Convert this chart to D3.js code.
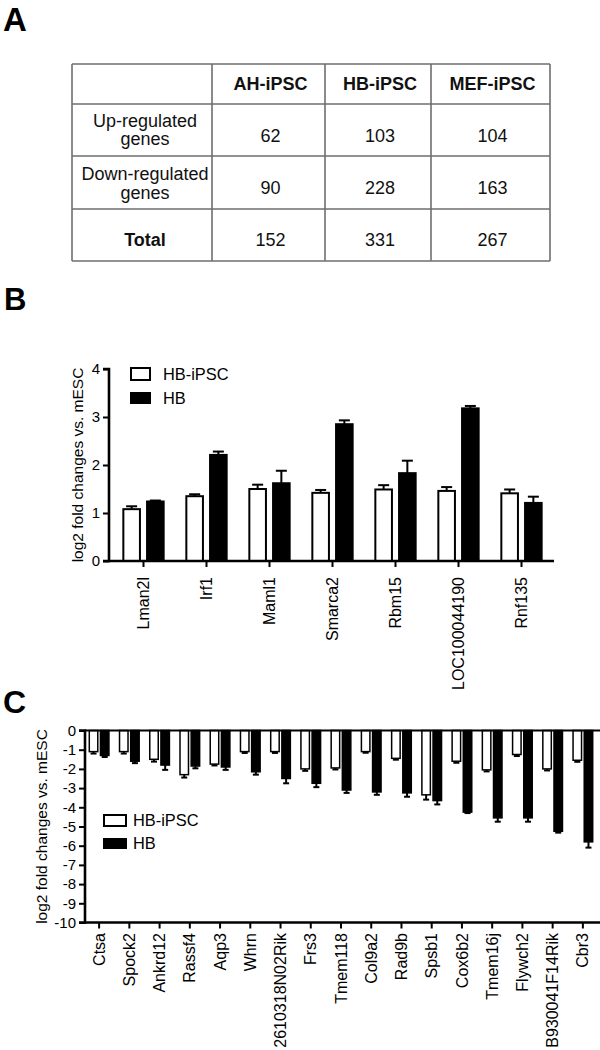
<!DOCTYPE html>
<html><head><meta charset="utf-8">
<script src="https://cdn.jsdelivr.net/npm/d3@7"></script>
<style>
html,body{margin:0;padding:0;background:#fff;}
svg{display:block;font-family:"Liberation Sans",Arial,sans-serif;}
</style></head>
<body>
<svg id="fig" width="600" height="1050"></svg>
<script>
// ---------- Panel A data ----------
const tableCols = ["AH-iPSC", "HB-iPSC", "MEF-iPSC"];
const rowLabels = [["Up-regulated", "genes"], ["Down-regulated", "genes"], ["Total"]];
const upRegulated = [62, 103, 104];
const downRegulated = [90, 228, 163];
const totals = [152, 331, 267];

// ---------- Panel B data ----------
const seriesNames = ["HB-iPSC", "HB"];
const genesB = ["Lman2l", "Irf1", "Maml1", "Smarca2", "Rbm15", "LOC100044190", "Rnf135"];
const hbipscB = [1.08, 1.35, 1.50, 1.42, 1.49, 1.46, 1.41];
const hbipscBErr = [0.06, 0.04, 0.09, 0.06, 0.09, 0.08, 0.08];
const hbB = [1.24, 2.21, 1.62, 2.85, 1.83, 3.18, 1.21];
const hbBErr = [0.02, 0.07, 0.26, 0.08, 0.26, 0.05, 0.13];
const yTicksB = [0, 1, 2, 3, 4];

// ---------- Panel C data ----------
const genesC = ["Ctsa", "Spock2", "Ankrd12", "Rassf4", "Aqp3", "Whrn", "2610318N02Rik", "Frs3",
  "Tmem118", "Col9a2", "Rad9b", "Spsb1", "Cox6b2", "Tmem16j", "Flywch2", "B930041F14Rik", "Cbr3"];
const hbipscC = [-1.1, -1.1, -1.5, -2.3, -1.75, -1.1, -1.1, -2.0, -1.95, -1.1, -1.45, -3.35, -1.6, -2.05, -1.25, -2.0, -1.55];
const hbipscCErr = [0.1, 0.1, 0.12, 0.15, 0.07, 0.07, 0.07, 0.1, 0.08, 0.06, 0.07, 0.25, 0.08, 0.08, 0.08, 0.08, 0.08];
const hbC = [-1.3, -1.6, -1.8, -1.85, -1.9, -2.15, -2.5, -2.75, -3.1, -3.2, -3.25, -3.65, -4.25, -4.55, -4.55, -5.25, -5.8];
const hbCErr = [0.08, 0.1, 0.25, 0.12, 0.15, 0.15, 0.25, 0.2, 0.15, 0.15, 0.2, 0.2, 0.05, 0.2, 0.2, 0.07, 0.3];
const yTicksC = [0, -1, -2, -3, -4, -5, -6, -7, -8, -9, -10];

const svg = d3.select("#fig");
svg.append("rect").attr("width", 600).attr("height", 1050).attr("fill", "#fff");

// panel letters
const letters = [["A", 3, 30.5, 33], ["B", 4, 310, 31], ["C", 3, 713, 32]];
letters.forEach(([t, x, y, s]) => svg.append("text").attr("x", x).attr("y", y)
  .attr("font-size", s).attr("font-weight", "bold").attr("fill", "#000").text(t));

// ---------------- Panel A: table ----------------
(function () {
  const colX = d3.scaleOrdinal().domain(d3.range(5)).range([72, 212, 325, 431, 550]);
  const rowY = [64, 104, 156, 209, 261];
  const g = svg.append("g");
  const lineCol = "#6e6e6e";
  rowY.forEach(y => g.append("line").attr("x1", colX(0)).attr("x2", colX(4)).attr("y1", y).attr("y2", y)
    .attr("stroke", lineCol).attr("stroke-width", 1.6));
  d3.range(5).forEach(i => g.append("line").attr("x1", colX(i)).attr("x2", colX(i))
    .attr("y1", rowY[0]).attr("y2", rowY[4]).attr("stroke", lineCol).attr("stroke-width", 1.6));
  const cx = i => (colX(i) + colX(i + 1)) / 2;
  tableCols.forEach((c, i) => g.append("text").attr("x", cx(i + 1) + 2).attr("y", 89.5)
    .attr("text-anchor", "middle").attr("font-size", 18).attr("font-weight", "bold").attr("fill", "#111").text(c));
  const labelBase = [[126.5, 145], [180, 199], [246]];
  rowLabels.forEach((lines, r) => lines.forEach((t, k) => g.append("text")
    .attr("x", cx(0) + 3).attr("y", labelBase[r][k]).attr("text-anchor", "middle")
    .attr("font-size", 18).attr("font-weight", r === 2 ? "bold" : "normal").attr("fill", "#111").text(t)));
  const rows = [upRegulated, downRegulated, totals];
  const numBase = [141.5, 194, 246];
  rows.forEach((vals, r) => vals.forEach((v, i) => g.append("text").attr("x", cx(i + 1) + 2).attr("y", numBase[r])
    .attr("text-anchor", "middle").attr("font-size", 18).attr("fill", "#111").text(v)));
})();

// generic grouped bar chart
function barChart(opt) {
  const g = svg.append("g");
  const x0 = d3.scaleBand().domain(opt.genes).range(opt.xRange);
  const x1 = d3.scaleBand().domain(seriesNames)
    .range([x0.bandwidth() * opt.inner[0], x0.bandwidth() * opt.inner[1]]).paddingInner(opt.pad);
  const y = d3.scaleLinear().domain(opt.yDomain).range(opt.yRange);
  const series = [
    { name: seriesNames[0], vals: opt.s1, err: opt.e1, fill: "#fff" },
    { name: seriesNames[1], vals: opt.s2, err: opt.e2, fill: "#000" }
  ];
  series.forEach(s => {
    const grp = g.append("g");
    opt.genes.forEach((gene, i) => {
      const v = s.vals[i], e = s.err[i];
      const xx = x0(gene) + x1(s.name);
      const w = x1.bandwidth();
      const top = Math.min(y(0), y(v)), h = Math.abs(y(v) - y(0));
      const ey = y(v + Math.sign(v) * e);
      const xc = xx + w / 2;
      grp.append("line").attr("x1", xc).attr("x2", xc).attr("y1", y(v)).attr("y2", ey)
        .attr("stroke", "#000").attr("stroke-width", opt.errW);
      grp.append("line").attr("x1", xc - opt.cap / 2).attr("x2", xc + opt.cap / 2).attr("y1", ey).attr("y2", ey)
        .attr("stroke", "#000").attr("stroke-width", opt.errW);
      grp.append("rect").attr("x", xx).attr("y", top).attr("width", w).attr("height", h)
        .attr("fill", s.fill).attr("stroke", "#000").attr("stroke-width", opt.barStroke);
    });
  });
  // y axis
  const yAxis = d3.axisLeft(y).tickValues(opt.yTicks).tickSize(opt.tick).tickPadding(3)
    .tickFormat(d => String(d));
  const ya = g.append("g").attr("transform", `translate(${opt.axisX},0)`).call(yAxis);
  ya.select(".domain").attr("stroke-width", 2.6);
  ya.selectAll(".tick line").attr("stroke-width", 2);
  ya.selectAll(".tick text").attr("font-size", 15).attr("fill", "#000").attr("font-family", "Liberation Sans, Arial, sans-serif");
  ya.select(".domain").attr("d", `M${-opt.tick},${y(opt.yTicks[0])}H0V${y(opt.yTicks[opt.yTicks.length - 1])}H${-opt.tick}`);
  // x axis (categories)
  const xAxis = d3.axisBottom(x0).tickSize(opt.tick).tickPadding(0).tickSizeOuter(0);
  const xa = g.append("g").attr("transform", `translate(0,${opt.xAxisY})`).call(xAxis);
  xa.select(".domain").attr("d", `M${opt.axisX},0H${opt.xAxisEnd}`).attr("stroke-width", 2.6);
  xa.selectAll(".tick line").attr("stroke-width", 2);
  xa.selectAll(".tick text")
    .attr("font-size", opt.labelSize).attr("fill", "#000").attr("font-family", "Liberation Sans, Arial, sans-serif")
    .attr("text-anchor", "end").attr("y", 0).attr("dy", "0.35em")
    .attr("transform", `translate(0,${opt.labelTop - opt.xAxisY}) rotate(-90)`);
  if (opt.zeroLine) {
    g.append("line").attr("x1", opt.axisX).attr("x2", opt.xAxisEnd).attr("y1", y(0)).attr("y2", y(0))
      .attr("stroke", "#000").attr("stroke-width", 2.2);
  }
  // axis title
  g.append("text").attr("transform", `translate(${opt.titleX},${(opt.yRange[0] + opt.yRange[1]) / 2}) rotate(-90)`)
    .attr("text-anchor", "middle").attr("font-size", 15.5).attr("fill", "#000").text("log2 fold changes vs. mESC");
  // legend
  const L = opt.legend;
  series.forEach((s, i) => {
    const yy = L.y + i * L.dy;
    g.append("rect").attr("x", L.x).attr("y", i === 0 ? yy : yy + 1).attr("width", L.w).attr("height", i === 0 ? L.h : L.h - 2)
      .attr("fill", s.fill).attr("stroke", "#000").attr("stroke-width", 2);
    g.append("text").attr("x", L.tx).attr("y", yy + L.h - 0.5).attr("font-size", 16.4).attr("fill", "#000").text(s.name);
  });
}

// ---------------- Panel B ----------------
barChart({
  genes: genesB, s1: hbipscB, e1: hbipscBErr, s2: hbB, e2: hbBErr,
  xRange: [112, 553], inner: [0.18, 0.82], pad: 0.3,
  yDomain: [0, 4], yRange: [561, 369], yTicks: yTicksB,
  axisX: 109, xAxisY: 561, xAxisEnd: 554, tick: 6, labelTop: 577, labelSize: 16,
  errW: 2, cap: 11, barStroke: 2, titleX: 83,
  legend: { x: 131, y: 368, w: 19, h: 12, dy: 24, tx: 163 }
});

// ---------------- Panel C ----------------
barChart({
  genes: genesC, s1: hbipscC, e1: hbipscCErr, s2: hbC, e2: hbCErr,
  xRange: [84, 598], inner: [0.175, 0.825], pad: 0.24,
  yDomain: [0, -10], yRange: [730.5, 922.5], yTicks: yTicksC,
  axisX: 85, xAxisY: 922.5, xAxisEnd: 600, tick: 6, labelTop: 933, labelSize: 16,
  errW: 2, cap: 6, barStroke: 1.5, titleX: 47, zeroLine: true,
  legend: { x: 104, y: 815, w: 22, h: 11, dy: 23, tx: 133 }
});
</script>
</body></html>
